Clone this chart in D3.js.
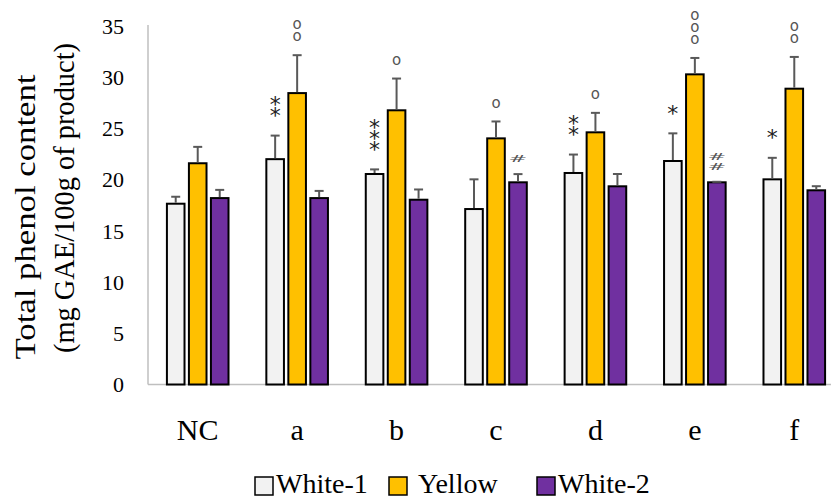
<!DOCTYPE html>
<html>
<head>
<meta charset="utf-8">
<script src="https://cdn.jsdelivr.net/npm/d3@7"></script>
<style>
  html, body { margin: 0; padding: 0; background: #fff; }
  svg { display: block; }
  .serif { font-family: "Liberation Serif", "Times New Roman", serif; fill: #000; }
</style>
</head>
<body>
<svg id="chart" width="831" height="498"></svg>
<script>
// Total phenol content per treatment group, three product types
const categories = ["NC", "a", "b", "c", "d", "e", "f"];
const seriesNames = ["White-1", "Yellow", "White-2"];
const seriesColors = ["#F2F2F2", "#FFC000", "#7030A0"];

const white1 = [17.65, 22.0, 20.55, 17.13, 20.65, 21.82, 20.03];
const white1Err = [0.68, 2.3, 0.45, 2.9, 1.8, 2.7, 2.1];
const yellow = [21.6, 28.45, 26.77, 24.03, 24.62, 30.28, 28.88];
const yellowErr = [1.6, 3.7, 3.1, 1.65, 1.9, 1.6, 3.1];
const white2 = [18.2, 18.2, 18.04, 19.74, 19.35, 19.74, 18.96];
const white2Err = [0.8, 0.7, 1.0, 0.8, 1.2, 0.05, 0.4];

// significance marks (one stacked glyph per character)
const white1Marks = ["", "**", "***", "", "**", "*", "*"];
const yellowMarks = ["", "oo", "o", "o", "o", "ooo", "oo"];
const white2Marks = ["", "", "", "#", "", "##", ""];

const yTicks = [0, 5, 10, 15, 20, 25, 30, 35];

const seriesValues = [white1, yellow, white2];
const seriesErrors = [white1Err, yellowErr, white2Err];
const seriesMarks = [white1Marks, yellowMarks, white2Marks];

const svg = d3.select("#chart");

const plotLeft = 148, plotRight = 844, plotTop = 26, plotBottom = 384.5;

const y = d3.scaleLinear().domain([0, 35]).range([plotBottom, plotTop]);
const x0 = d3.scaleBand().domain(categories).range([plotLeft, plotRight]).padding(0);
const groupHalf = 30.8;
const x1 = d3.scaleBand().domain(seriesNames)
  .range([x0.bandwidth() / 2 - groupHalf, x0.bandwidth() / 2 + groupHalf])
  .paddingInner(0.2).paddingOuter(0);

// axis lines
svg.append("line")
  .attr("x1", plotLeft).attr("x2", plotLeft)
  .attr("y1", y(35) - 1).attr("y2", plotBottom)
  .attr("stroke", "#BFBFBF").attr("stroke-width", 1.5);
svg.append("line")
  .attr("x1", plotLeft).attr("x2", plotRight)
  .attr("y1", plotBottom).attr("y2", plotBottom)
  .attr("stroke", "#BFBFBF").attr("stroke-width", 1.5);

// y tick labels
svg.append("g").selectAll("text").data(yTicks).join("text")
  .attr("class", "serif")
  .attr("x", 124)
  .attr("y", d => y(d))
  .attr("dy", "0.35em")
  .attr("text-anchor", "end")
  .attr("font-size", 22)
  .text(d => d);

// category labels
svg.append("g").selectAll("text").data(categories).join("text")
  .attr("class", "serif")
  .attr("x", d => x0(d) + x0.bandwidth() / 2)
  .attr("y", 439.5)
  .attr("text-anchor", "middle")
  .attr("font-size", 30)
  .text(d => d);

// bars
const groups = svg.append("g").selectAll("g").data(categories).join("g")
  .attr("transform", d => `translate(${x0(d)},0)`);

seriesNames.forEach((name, si) => {
  groups.append("rect")
    .attr("x", x1(name))
    .attr("width", x1.bandwidth())
    .attr("y", (d, i) => y(seriesValues[si][i]))
    .attr("height", (d, i) => plotBottom - y(seriesValues[si][i]))
    .attr("fill", seriesColors[si])
    .attr("stroke", "#000")
    .attr("stroke-width", 2);
});

// error bars (upper only)
seriesNames.forEach((name, si) => {
  const cx = x1(name) + x1.bandwidth() / 2;
  groups.append("line")
    .attr("x1", cx).attr("x2", cx)
    .attr("y1", (d, i) => y(seriesValues[si][i]) - 1)
    .attr("y2", (d, i) => y(seriesValues[si][i] + seriesErrors[si][i]))
    .attr("stroke", "#595959").attr("stroke-width", 2);
  groups.append("line")
    .attr("x1", cx - 4.5).attr("x2", cx + 4.5)
    .attr("y1", (d, i) => y(seriesValues[si][i] + seriesErrors[si][i]))
    .attr("y2", (d, i) => y(seriesValues[si][i] + seriesErrors[si][i]))
    .attr("stroke", "#595959").attr("stroke-width", 2);
});

// significance marks: each stack is one text run set vertically
// (run rotated -90, glyphs rotated back upright), placed above the error bar
const markStyle = {
  "*": { gap: 24, step: 11, size: 22, color: "#222", mid: 11.5, adv: 11, sx: 1, sy: 1 },
  "o": { gap: 18, step: 12.3, size: 15, color: "#555", mid: 4.2, adv: 9.18, sx: 1, sy: 1 },
  "#": { gap: 15, step: 10, size: 14, color: "#555", mid: 3.1, adv: 11.73, sx: 1.6, sy: 0.6 }
};
seriesNames.forEach((name, si) => {
  const cx = x1(name) + x1.bandwidth() / 2;
  groups.each(function(d, i) {
    const marks = seriesMarks[si][i];
    if (!marks) return;
    const top = y(seriesValues[si][i] + seriesErrors[si][i]);
    const st = markStyle[marks[0]];
    const baseY = top - st.gap + st.mid;
    const ox = cx - st.adv * st.sx / 2;
    d3.select(this).append("text")
      .attr("font-family", "'DejaVu Sans', sans-serif")
      .attr("font-size", st.size)
      .attr("fill", st.color)
      .attr("letter-spacing", st.step / st.sy - st.adv)
      .attr("rotate", marks.split("").map(() => 90).join(" "))
      .attr("transform", `translate(${ox},${baseY}) scale(${st.sx},${st.sy}) rotate(-90)`)
      .text(marks);
  });
});

// y-axis title
const title = svg.append("g");
title.append("text")
  .attr("class", "serif")
  .attr("transform", "translate(35,217) rotate(-90)")
  .attr("text-anchor", "middle")
  .attr("font-size", 30)
  .attr("textLength", 285)
  .attr("lengthAdjust", "spacingAndGlyphs")
  .text("Total phenol content");
title.append("text")
  .attr("class", "serif")
  .attr("transform", "translate(74,198) rotate(-90)")
  .attr("text-anchor", "middle")
  .attr("font-size", 30)
  .attr("textLength", 310)
  .attr("lengthAdjust", "spacingAndGlyphs")
  .text("(mg GAE/100g of product)");

// legend
const legendX = [255, 389, 537];
const legend = svg.append("g").selectAll("g").data(seriesNames).join("g")
  .attr("transform", (d, i) => `translate(${legendX[i]},477)`);
legend.append("rect")
  .attr("width", 18).attr("height", 18)
  .attr("fill", (d, i) => seriesColors[i])
  .attr("stroke", "#000").attr("stroke-width", 1.5);
legend.append("text")
  .attr("class", "serif")
  .attr("x", (d, i) => i === 1 ? 29 : 21)
  .attr("y", 15.5)
  .attr("font-size", 28)
  .text(d => d);
</script>
</body>
</html>
